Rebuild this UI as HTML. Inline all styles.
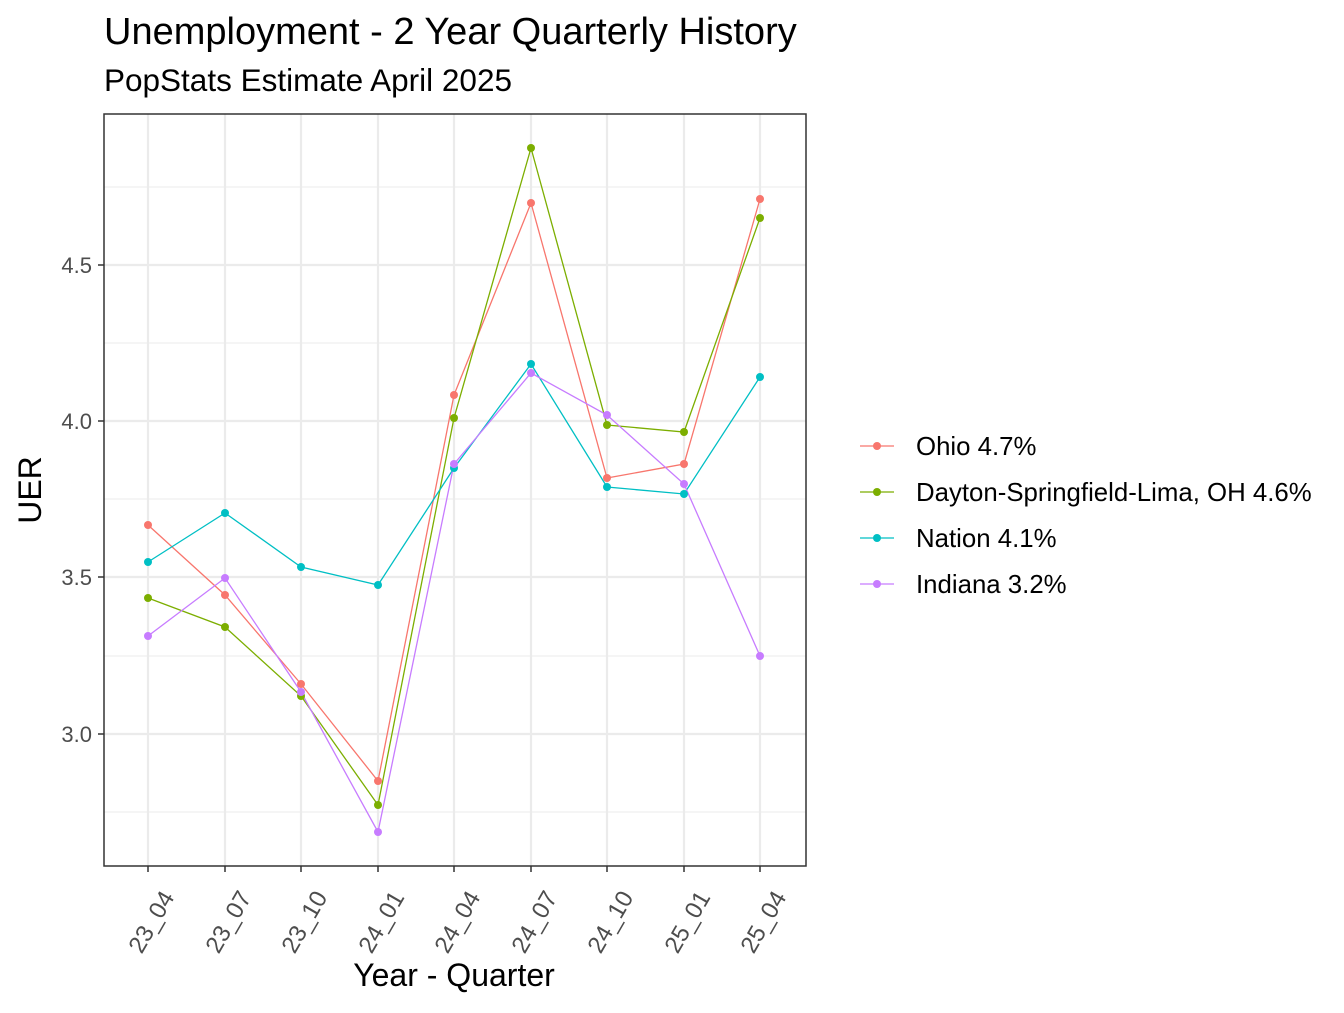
<!DOCTYPE html>
<html><head><style>body{margin:0;background:#fff}</style></head><body>
<svg width="1344" height="1008" xmlns="http://www.w3.org/2000/svg" font-family="Liberation Sans, sans-serif">
<rect width="1344" height="1008" fill="#fff"/>
<g stroke="#EBEBEB" stroke-width="1">
<line x1="104" x2="806" y1="187" y2="187"/><line x1="104" x2="806" y1="343" y2="343"/><line x1="104" x2="806" y1="499" y2="499"/><line x1="104" x2="806" y1="656" y2="656"/><line x1="104" x2="806" y1="812" y2="812"/>
</g>
<g stroke="#EBEBEB" stroke-width="2.2">
<line x1="104" x2="806" y1="265" y2="265"/><line x1="104" x2="806" y1="421" y2="421"/><line x1="104" x2="806" y1="577" y2="577"/><line x1="104" x2="806" y1="734" y2="734"/>
<line x1="148" x2="148" y1="114" y2="866"/><line x1="225" x2="225" y1="114" y2="866"/><line x1="301" x2="301" y1="114" y2="866"/><line x1="378" x2="378" y1="114" y2="866"/><line x1="454" x2="454" y1="114" y2="866"/><line x1="531" x2="531" y1="114" y2="866"/><line x1="607" x2="607" y1="114" y2="866"/><line x1="684" x2="684" y1="114" y2="866"/><line x1="760" x2="760" y1="114" y2="866"/>
</g>
<g fill="none" stroke-width="1.3">
<polyline stroke="#F8766D" points="148,525 225,595 301,684 378,781 454,395 531,203 607,478 684,464 760,199"/>
<polyline stroke="#7CAE00" points="148,598 225,627 301,696 378,805 454,418 531,148 607,425 684,432 760,218"/>
<polyline stroke="#00BFC4" points="148,562 225,513 301,567 378,585 454,468 531,364 607,487 684,494 760,377"/>
<polyline stroke="#C77CFF" points="148,636 225,578 301,692 378,832 454,464 531,373 607,415 684,484 760,656"/>
</g>
<g fill="#F8766D"><circle cx="148" cy="525" r="4"/><circle cx="225" cy="595" r="4"/><circle cx="301" cy="684" r="4"/><circle cx="378" cy="781" r="4"/><circle cx="454" cy="395" r="4"/><circle cx="531" cy="203" r="4"/><circle cx="607" cy="478" r="4"/><circle cx="684" cy="464" r="4"/><circle cx="760" cy="199" r="4"/></g>
<g fill="#7CAE00"><circle cx="148" cy="598" r="4"/><circle cx="225" cy="627" r="4"/><circle cx="301" cy="696" r="4"/><circle cx="378" cy="805" r="4"/><circle cx="454" cy="418" r="4"/><circle cx="531" cy="148" r="4"/><circle cx="607" cy="425" r="4"/><circle cx="684" cy="432" r="4"/><circle cx="760" cy="218" r="4"/></g>
<g fill="#00BFC4"><circle cx="148" cy="562" r="4"/><circle cx="225" cy="513" r="4"/><circle cx="301" cy="567" r="4"/><circle cx="378" cy="585" r="4"/><circle cx="454" cy="468" r="4"/><circle cx="531" cy="364" r="4"/><circle cx="607" cy="487" r="4"/><circle cx="684" cy="494" r="4"/><circle cx="760" cy="377" r="4"/></g>
<g fill="#C77CFF"><circle cx="148" cy="636" r="4"/><circle cx="225" cy="578" r="4"/><circle cx="301" cy="692" r="4"/><circle cx="378" cy="832" r="4"/><circle cx="454" cy="464" r="4"/><circle cx="531" cy="373" r="4"/><circle cx="607" cy="415" r="4"/><circle cx="684" cy="484" r="4"/><circle cx="760" cy="656" r="4"/></g>
<rect x="104" y="114" width="702" height="752" fill="none" stroke="#333" stroke-width="1.5"/>
<g stroke="#333" stroke-width="1.5">
<line x1="98" x2="104" y1="265" y2="265"/><line x1="98" x2="104" y1="421" y2="421"/><line x1="98" x2="104" y1="577" y2="577"/><line x1="98" x2="104" y1="734" y2="734"/>
<line x1="148" x2="148" y1="866" y2="872"/><line x1="225" x2="225" y1="866" y2="872"/><line x1="301" x2="301" y1="866" y2="872"/><line x1="378" x2="378" y1="866" y2="872"/><line x1="454" x2="454" y1="866" y2="872"/><line x1="531" x2="531" y1="866" y2="872"/><line x1="607" x2="607" y1="866" y2="872"/><line x1="684" x2="684" y1="866" y2="872"/><line x1="760" x2="760" y1="866" y2="872"/>
</g>
<g fill="#4D4D4D" font-size="22" text-anchor="end">
<text x="92" y="273">4.5</text><text x="92" y="429">4.0</text><text x="92" y="585">3.5</text><text x="92" y="742">3.0</text>
</g>
<g fill="#4D4D4D" font-size="24" text-anchor="end">
<text transform="translate(175,897) rotate(-60)">23_04</text>
<text transform="translate(252,897) rotate(-60)">23_07</text>
<text transform="translate(328,897) rotate(-60)">23_10</text>
<text transform="translate(405,897) rotate(-60)">24_01</text>
<text transform="translate(481,897) rotate(-60)">24_04</text>
<text transform="translate(558,897) rotate(-60)">24_07</text>
<text transform="translate(634,897) rotate(-60)">24_10</text>
<text transform="translate(711,897) rotate(-60)">25_01</text>
<text transform="translate(787,897) rotate(-60)">25_04</text>
</g>
<text x="104" y="44" font-size="38" fill="#000">Unemployment - 2 Year Quarterly History</text>
<text x="104" y="91" font-size="31.5" fill="#000">PopStats Estimate April 2025</text>
<text x="454" y="986" font-size="32" text-anchor="middle" fill="#000">Year - Quarter</text>
<text transform="translate(41,490) rotate(-90)" font-size="32" text-anchor="middle" fill="#000">UER</text>
<g stroke-width="1.3">
<line x1="860" x2="894" y1="446" y2="446" stroke="#F8766D"/><circle cx="877" cy="446" r="4" fill="#F8766D"/>
<line x1="860" x2="894" y1="492" y2="492" stroke="#7CAE00"/><circle cx="877" cy="492" r="4" fill="#7CAE00"/>
<line x1="860" x2="894" y1="538" y2="538" stroke="#00BFC4"/><circle cx="877" cy="538" r="4" fill="#00BFC4"/>
<line x1="860" x2="894" y1="584" y2="584" stroke="#C77CFF"/><circle cx="877" cy="584" r="4" fill="#C77CFF"/>
</g>
<g font-size="25.8" fill="#000">
<text x="916" y="455">Ohio 4.7%</text>
<text x="916" y="501">Dayton-Springfield-Lima, OH 4.6%</text>
<text x="916" y="547">Nation 4.1%</text>
<text x="916" y="593">Indiana 3.2%</text>
</g>
</svg>
</body></html>
